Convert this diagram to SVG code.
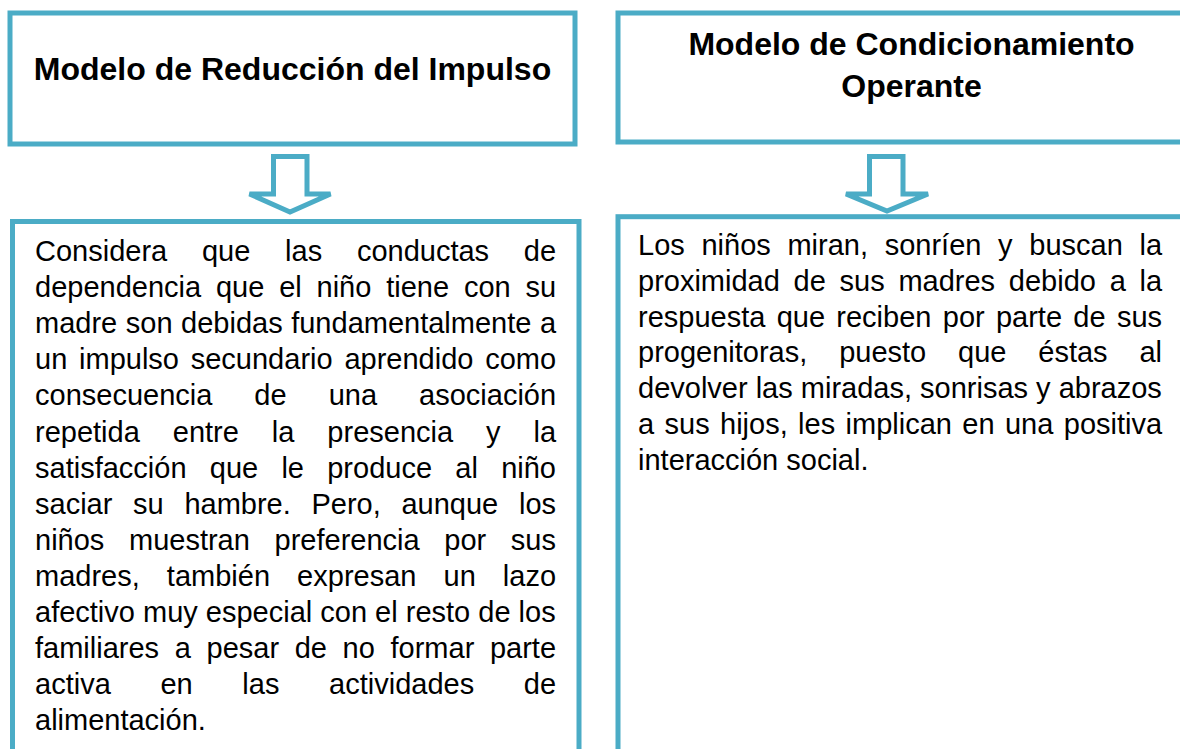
<svg xmlns="http://www.w3.org/2000/svg" width="1180" height="749" viewBox="0 0 1180 749">
<style>
.box{fill:#ffffff;stroke:#4BACC6;stroke-width:5}
.arrow{fill:#ffffff;stroke:#4BACC6;stroke-width:5;stroke-linejoin:miter}
.title{font-family:"Liberation Sans",Arial,sans-serif;font-size:32px;font-weight:bold;fill:#000000;text-anchor:middle}
.body{font-family:"Liberation Sans",Arial,sans-serif;font-size:29px;fill:#000000}
</style>
<rect width="1180" height="749" fill="#ffffff"/>
<g id="header-left">
<rect class="box" x="10" y="13" width="565" height="131"/>
<text class="title" x="292.5" y="80">Modelo de Reducción del Impulso</text>
</g>
<g id="header-right">
<rect class="box" x="618" y="13" width="600" height="129"/>
<text class="title" x="911.5" y="55">Modelo de Condicionamiento</text>
<text class="title" x="911.5" y="97">Operante</text>
</g>
<g id="connectors">
<path class="arrow" d="M273.5,156.5 L307,156.5 L307,194 L330.5,194 L290,212 L249.5,194 L273.5,194 Z"/>
<path class="arrow" d="M869.5,156.5 L903,156.5 L903,194 L928,194 L887,211 L846,194 L869.5,194 Z"/>
</g>
<g id="content-left">
<rect class="box" x="12.5" y="221.5" width="566.5" height="560"/>
<text class="body" x="35" y="261" word-spacing="26.7">Considera que las conductas de</text>
<text class="body" x="35" y="297.1" word-spacing="6.77">dependencia que el niño tiene con su</text>
<text class="body" x="35" y="333.2" word-spacing="0.49">madre son debidas fundamentalmente a</text>
<text class="body" x="35" y="369.3" word-spacing="3.72">un impulso secundario aprendido como</text>
<text class="body" x="35" y="405.4" word-spacing="33.97">consecuencia de una asociación</text>
<text class="body" x="35" y="441.5" word-spacing="24.9">repetida entre la presencia y la</text>
<text class="body" x="35" y="477.6" word-spacing="15.2">satisfacción que le produce al niño</text>
<text class="body" x="35" y="513.7" word-spacing="12.64">saciar su hambre. Pero, aunque los</text>
<text class="body" x="35" y="549.8" word-spacing="16.6">niños muestran preferencia por sus</text>
<text class="body" x="35" y="585.9" word-spacing="19.04">madres, también expresan un lazo</text>
<text class="body" x="35" y="622">afectivo muy especial con el resto de los</text>
<text class="body" x="35" y="658.1" word-spacing="7.59">familiares a pesar de no formar parte</text>
<text class="body" x="35" y="694.2" word-spacing="41.6">activa en las actividades de</text>
<text class="body" x="35" y="730.3">alimentación.</text>
</g>
<g id="content-right">
<rect class="box" x="618" y="216.7" width="600" height="560"/>
<text class="body" x="638" y="255" word-spacing="8.62">Los niños miran, sonríen y buscan la</text>
<text class="body" x="638" y="290.8" word-spacing="5.67">proximidad de sus madres debido a la</text>
<text class="body" x="638" y="326.6" word-spacing="3.24">respuesta que reciben por parte de sus</text>
<text class="body" x="638" y="362.4" word-spacing="23.8">progenitoras, puesto que éstas al</text>
<text class="body" x="638" y="398.2">devolver las miradas, sonrisas y abrazos</text>
<text class="body" x="638" y="434" word-spacing="2.33">a sus hijos, les implican en una positiva</text>
<text class="body" x="638" y="469.8">interacción social.</text>
</g>
</svg>
